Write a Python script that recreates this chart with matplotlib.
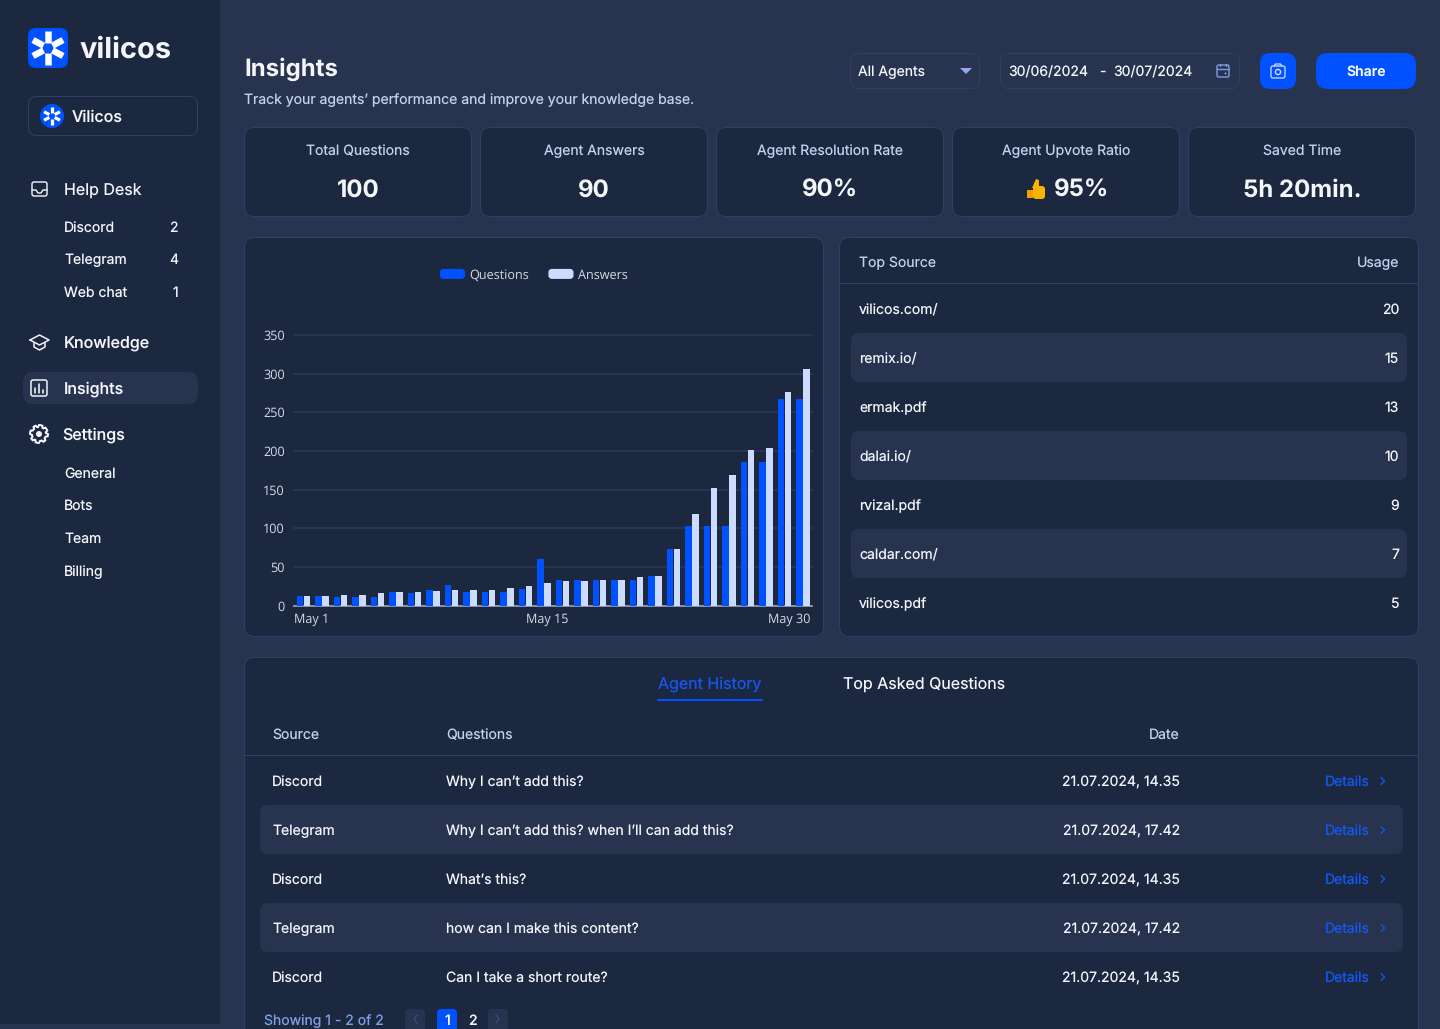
import numpy as np
import matplotlib
matplotlib.use('Agg')
import matplotlib.pyplot as plt
from matplotlib.patches import FancyBboxPatch, Circle, Polygon, Patch
from matplotlib.legend_handler import HandlerPatch

# data
questions = [12, 12, 11, 11, 11, 18, 16, 20, 27, 18, 18, 18, 21, 60,
             33, 33, 33, 33, 33, 38, 73, 103, 103, 103, 186, 186, 267, 267]
answers = [12, 12, 14, 14, 16, 18, 18, 19, 20, 20, 20, 23, 25, 29,
           32, 32, 33, 33, 37, 38, 73, 118, 152, 169, 201, 204, 276, 306]
yticks = [0, 50, 100, 150, 200, 250, 300, 350]
xlabels = ['May 1', 'May 15', 'May 30']

card_titles = ['Total Questions', 'Agent Answers', 'Agent Resolution Rate', 'Agent Upvote Ratio', 'Saved Time']
card_values = ['100', '90', '90%', '95%', '5h 20min.']

sources = ['vilicos.com/', 'remix.io/', 'ermak.pdf', 'dalai.io/', 'rvizal.pdf', 'caldar.com/', 'vilicos.pdf']
usage = [20, 15, 13, 10, 9, 7, 5]

hist_source = ['Discord', 'Telegram', 'Discord', 'Telegram', 'Discord']
hist_question = ['Why I can’t add this?', 'Why I can’t add this? when I’ll can add this?', 'What’s this?',
                 'how can I make this content?', 'Can I take a short route?']
hist_date = ['21.07.2024, 14.35', '21.07.2024, 17.42', '21.07.2024, 14.35', '21.07.2024, 17.42', '21.07.2024, 14.35']

desk_items = ['Discord', 'Telegram', 'Web chat']
desk_counts = [2, 4, 1]
settings_items = ['General', 'Bots', 'Team', 'Billing']

# colours
BG = '#27334f'
PANEL = '#1c2840'
ROW = '#27334f'
EDGE = '#2f3f66'
BLUE = '#0051ff'
LIGHT = '#cddbff'
WHITE = '#f4f6fa'
SOFT = '#c3d0ee'
LINK = '#1259f5'
CHART_FONT = 9.1

plt.rcParams['font.family'] = ['Inter', 'DejaVu Sans']
plt.rcParams['text.hinting'] = 'no_hinting'

fig = plt.figure(figsize=(14.4, 10.29), dpi=100, facecolor=BG)
ui = fig.add_axes([0, 0, 1, 1])
ui.set_xlim(0, 1440)
ui.set_ylim(1029, 0)
ui.axis('off')


def box(x, y, w, h, r, fc='none', ec='none', lw=1.0, z=1):
    p = FancyBboxPatch((x + r, y + r), w - 2 * r, h - 2 * r, boxstyle='round,pad=%f,rounding_size=%f' % (r, r),
                       fc=fc, ec=ec, lw=lw * 0.72, zorder=z)
    ui.add_patch(p)
    return p


def txt(x, y, s, px=14, color=WHITE, ha='left', weight='normal', z=5):
    return ui.text(x, y, s, fontsize=px * 0.72, color=color, ha=ha, va='center_baseline', weight=weight, zorder=z)


def line(xs, ys, color=WHITE, lw=1.5, z=5):
    ui.plot(xs, ys, color=color, lw=lw * 0.72, zorder=z, solid_capstyle='round', solid_joinstyle='round')


def star(cx, cy, r0, r1, lw):
    for a in [90, 270, 28, -28, 152, 208]:
        c, s = np.cos(np.radians(a)), np.sin(np.radians(a))
        ui.plot([cx + r0 * c, cx + r1 * c], [cy + r0 * s, cy + r1 * s], color='white', lw=lw * 0.72, zorder=6,
                solid_capstyle='butt')


# sidebar
box(-20, -20, 240, 1044, 1, fc=PANEL)
box(28, 28, 40, 40, 8, fc=BLUE, z=5)
star(48, 48, 5, 17, 6.5)
txt(80, 47, 'vilicos', 29, WHITE, weight='bold')
box(28.5, 96.5, 169, 39, 8, ec=EDGE)
ui.add_patch(Circle((52, 116), 12, fc=BLUE, zorder=5))
star(52, 116, 3, 9, 3.2)
txt(72, 116, 'Vilicos', 16, WHITE, weight='medium')

# help desk
box(32, 182, 15, 14, 2, ec=WHITE, lw=1.4, z=5)
line([32, 36, 38, 41, 43, 47], [190, 190, 193, 193, 190, 190], lw=1.4)
txt(64, 189.6, 'Help Desk', 16)
for i, (name, n) in enumerate(zip(desk_items, desk_counts)):
    y = [227, 259, 292][i]
    txt(64, y, name, 14)
    txt(178, y, str(n), 14, ha='right')

# knowledge
line([30, 39.5, 49, 39.5, 30], [340, 335, 340, 345, 340], lw=1.5)
line([34, 34, 39.5, 45, 45], [343, 347, 350, 347, 343], lw=1.5)
txt(64, 342.6, 'Knowledge', 16, weight='medium')

# insights
box(23, 372, 175, 32, 10, fc=BG, z=2)
box(31, 380, 16, 16, 2, ec=WHITE, lw=1.5, z=5)
for bx, top in zip([35, 39, 43], [388, 384, 390]):
    line([bx, bx], [top, 393], lw=1.6)
txt(64, 387.5, 'Insights', 16, weight='medium')

# settings gear
ang = np.linspace(0, 2 * np.pi, 49)[:-1]
rad = np.where((ang * 8 / (2 * np.pi)) % 1 < 0.5, 9.0, 7.0)
ui.add_patch(Polygon(np.c_[39 + rad * np.cos(ang), 434 + rad * np.sin(ang)], closed=True, fc='none', ec=WHITE,
                     lw=1.4, zorder=5))
ui.add_patch(Circle((39, 434), 3, fc=WHITE, ec='none', zorder=5))
txt(62, 433.5, 'Settings', 16, weight='medium')
for y, name in zip([473, 505, 538, 571], settings_items):
    txt(64, y, name, 14)

# header
txt(244, 67, 'Insights', 24, WHITE, weight='bold')
txt(244, 99, 'Track your agents’ performance and improve your knowledge base.', 14, SOFT)
box(850.5, 53.5, 129, 35, 8, ec=EDGE)
txt(858, 71, 'All Agents', 14)
ui.add_patch(Polygon([(960, 68), (972, 68), (966, 74)], closed=True, fc='#8fa9f0', ec='none', zorder=5))
box(1000.5, 53.5, 239, 35, 8, ec=EDGE)
txt(1008, 71, '30/06/2024', 14)
txt(1099, 71, '-', 14)
txt(1113, 71, '30/07/2024', 14)
box(1217, 65, 12, 12, 1.5, ec='#7f9be0', lw=1.4, z=5)
line([1217, 1229], [68.5, 68.5], color='#7f9be0', lw=1.4)
line([1220, 1220], [63.5, 66], color='#7f9be0', lw=1.4)
line([1226, 1226], [63.5, 66], color='#7f9be0', lw=1.4)
ui.add_patch(Circle((1225.5, 73.5), 1, fc='#7f9be0', ec='none', zorder=6))
box(1260, 53, 36, 36, 10, fc=BLUE)
box(1271, 66, 14, 12, 2, ec=LIGHT, lw=1.3, z=5)
line([1274, 1275.5, 1280.5, 1282], [66, 64, 64, 66], color=LIGHT, lw=1.3)
ui.add_patch(Circle((1278, 72), 2.6, fc='none', ec=LIGHT, lw=1, zorder=6))
box(1316, 53, 100, 36, 12, fc=BLUE)
txt(1366, 71, 'Share', 14, ha='center', weight='semibold')

# stat cards
for i, (title, val) in enumerate(zip(card_titles, card_values)):
    x = 244 + i * 236
    box(x + 0.5, 127.5, 227, 89, 10, fc=PANEL, ec=EDGE)
    txt(x + 114, 150, title, 14, SOFT, ha='center')
    if i == 3:
        txt(x + 102, 188, val, 24, WHITE, weight='bold')
    else:
        txt(x + 114, 188, val, 24, WHITE, ha='center', weight='bold')
# thumb
box(1033, 186, 12, 13, 3, fc='#f7b500', z=6)
ui.add_patch(Polygon([(1027, 190), (1033, 190), (1033, 198), (1027, 198)], closed=True, fc='#f2a000', ec='none', zorder=6))
ui.add_patch(Polygon([(1032, 188), (1036, 179), (1039, 180), (1039, 188)], closed=True, fc='#f7b500', ec='none', zorder=6))

# chart card
box(244.5, 237.5, 579, 399, 10, fc=PANEL, ec=EDGE)

# source card
box(839.5, 237.5, 579, 399, 10, fc=PANEL, ec=EDGE)
txt(859, 262, 'Top Source', 14, SOFT)
txt(1399, 262, 'Usage', 14, SOFT, ha='right')
ui.plot([840, 1418], [283, 283], color=EDGE, lw=0.8, zorder=2)
for i, (src, n) in enumerate(zip(sources, usage)):
    y = 309 + i * 49
    if i % 2 == 1:
        box(851, y - 25, 556, 49, 8, fc=ROW, z=2)
    txt(859, y, src, 14)
    txt(1399, y, str(n), 14, ha='right')

# history card
box(244.5, 657.5, 1174, 420, 10, fc=PANEL, ec=EDGE)
txt(710, 682.6, 'Agent History', 16, '#1557f0', ha='center')
ui.plot([657, 763], [700, 700], color=BLUE, lw=1.5, zorder=5, solid_capstyle='butt')
txt(924, 683, 'Top Asked Questions', 16, WHITE, ha='center')
txt(272, 734, 'Source', 14, SOFT)
txt(446, 734, 'Questions', 14, SOFT)
txt(1180, 734, 'Date', 14, SOFT, ha='right')
ui.plot([245, 1418], [755, 755], color=EDGE, lw=0.8, zorder=2)
for i in range(len(hist_source)):
    y = 781 + i * 49
    if i % 2 == 1:
        box(260, y - 25, 1143, 49, 8, fc=ROW, z=2)
    txt(272, y, hist_source[i], 14)
    txt(446, y, hist_question[i], 14)
    txt(1180, y, hist_date[i], 14, ha='right')
    txt(1325, y, 'Details', 14, LINK)
    line([1381, 1384.5, 1381], [y - 3.5, y, y + 3.5], color=LINK, lw=1.3)

# pagination
txt(264, 1020, 'Showing 1 - 2 of 2', 14, '#7f9fe8')
box(405, 1009, 20, 30, 4, fc=ROW)
line([417, 414, 417], [1015, 1019, 1023], color='#3a4f80', lw=1.2)
box(437, 1009, 20, 30, 4, fc=BLUE)
txt(447, 1020, '1', 14, ha='center', weight='medium')
txt(472.5, 1020, '2', 14, ha='center', weight='medium')
box(488, 1009, 20, 30, 4, fc=ROW)
line([496, 499, 496], [1015, 1019, 1023], color='#3a4f80', lw=1.2)

# bar chart
ax = fig.add_axes([294 / 1440, (1029 - 605.7) / 1029, 518 / 1440, 270.7 / 1029])
ax.patch.set_alpha(0)
x = np.arange(len(questions))
w = 0.36
ax.bar(x - w / 2, questions, w, color=BLUE, zorder=3)
ax.bar(x + w / 2 + 0.02, answers, w, color=LIGHT, zorder=3)
ax.set_xlim(-0.5, 27.5)
ax.set_ylim(0, 350)
ax.set_yticks(yticks)
ax.set_xticks([-0.5, 13.17, 27.42])
ax.set_xticklabels(xlabels)
for lab, ha in zip(ax.get_xticklabels(), ['left', 'center', 'right']):
    lab.set_ha(ha)
ax.grid(axis='y', color='#2a3a5c', lw=1.1, zorder=0)
for gl in ax.get_ygridlines():
    gl.set_clip_on(False)
for name in ['top', 'right', 'left']:
    ax.spines[name].set_visible(False)
ax.spines['bottom'].set_color('#8b93a5')
ax.spines['bottom'].set_linewidth(1.4)
ax.tick_params(axis='both', length=0, labelsize=CHART_FONT, labelcolor='#d5dae5', labelfontfamily='Open Sans')
ax.tick_params(axis='y', pad=6.6)
ax.tick_params(axis='x', pad=5)


def round_handle(legend, orig_handle, xdescent, ydescent, width, height, fontsize):
    return FancyBboxPatch((-xdescent + 2, -ydescent + 1.5), width - 4, height - 3,
                          boxstyle='round,pad=2,rounding_size=2', lw=0)


leg = ax.legend(handles=[Patch(color=BLUE, label='Questions'), Patch(color=LIGHT, label='Answers')],
                loc='center', bbox_to_anchor=(534 / 1440, 1 - 275 / 1029),
                bbox_transform=fig.transFigure, ncol=2, frameon=False, handlelength=1.88, handleheight=0.5,
                handletextpad=0.38, columnspacing=1.6,
                prop={'family': 'Open Sans', 'size': CHART_FONT},
                handler_map={Patch: HandlerPatch(patch_func=round_handle)})
for t in leg.get_texts():
    t.set_color('#d5dae5')

fig.savefig('out.png', dpi=100, facecolor=BG)
